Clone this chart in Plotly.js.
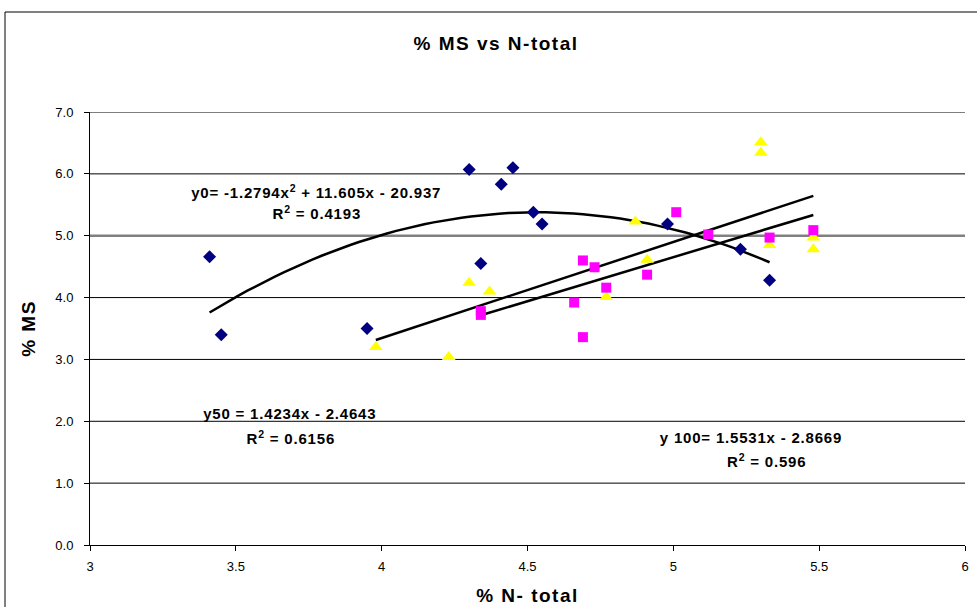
<!DOCTYPE html>
<html>
<head>
<meta charset="utf-8">
<script src="https://cdn.plot.ly/plotly-3.0.1.min.js"></script>
<style>
html,body{margin:0;padding:0;background:#fff;}
#chart{width:977px;height:607px;}
#chart .annotation-text {letter-spacing: 0.8px;}
#chart .gtitle, #chart .xtitle, #chart .ytitle {letter-spacing: 1.5px;}
</style>
</head>
<body>
<div id="chart"></div>
<script>
// Series y0 (navy diamonds)
var x0 = [3.41, 3.45, 3.95, 4.30, 4.45, 4.41, 4.52, 4.55, 4.34, 4.98, 5.23, 5.33];
var y0 = [4.66, 3.40, 3.50, 6.07, 6.10, 5.83, 5.38, 5.19, 4.55, 5.19, 4.78, 4.28];
// Series y50 (yellow triangles)
var x50 = [3.98, 4.23, 4.30, 4.37, 4.77, 4.87, 4.91, 5.30, 5.30, 5.33, 5.48, 5.48];
var y50 = [3.20, 3.04, 4.24, 4.10, 4.01, 5.23, 4.61, 6.51, 6.34, 4.85, 4.97, 4.78];
// Series y100 (magenta squares)
var x100 = [4.34, 4.34, 4.66, 4.69, 4.73, 4.77, 4.69, 4.91, 5.01, 5.12, 5.33, 5.48];
var y100 = [3.78, 3.72, 3.92, 4.60, 4.49, 4.16, 3.36, 4.37, 5.38, 5.02, 4.97, 5.09];

// Trend line coefficients (from the chart's equations) and their x-ranges
var quadCoef = [-1.2794, 11.605, -20.937];
var quadRange = [3.41, 5.33];
var linA = [1.5531, -2.8669];   // line spanning 3.98 - 5.48
var linARange = [3.98, 5.48];
var linB = [1.4234, -2.4643];   // line spanning 4.34 - 5.48
var linBRange = [4.34, 5.48];

var xTicks = [3, 3.5, 4, 4.5, 5, 5.5, 6];
var yTicks = [0, 1, 2, 3, 4, 5, 6, 7];

function quadLine(c, r) {
  var xs = [], ys = [];
  var n = 60;
  for (var i = 0; i <= n; i++) {
    var x = r[0] + (r[1] - r[0]) * i / n;
    xs.push(x);
    ys.push(c[0] * x * x + c[1] * x + c[2]);
  }
  return {x: xs, y: ys};
}
function linLine(c, r) {
  return {x: [r[0], r[1]], y: [c[0] * r[0] + c[1], c[0] * r[1] + c[1]]};
}

var q = quadLine(quadCoef, quadRange);
var la = linLine(linA, linARange);
var lb = linLine(linB, linBRange);

var lineStyle = {color: '#000000', width: 2.5};
var traces = [
  {x: q.x, y: q.y, mode: 'lines', line: lineStyle, hoverinfo: 'skip'},
  {x: la.x, y: la.y, mode: 'lines', line: lineStyle, hoverinfo: 'skip'},
  {x: lb.x, y: lb.y, mode: 'lines', line: lineStyle, hoverinfo: 'skip'},
  {x: x0, y: y0, mode: 'markers', name: 'y0',
   marker: {symbol: 'diamond', size: 10, color: '#000080'}},
  {x: x50, y: y50, mode: 'markers', name: 'y50',
   marker: {symbol: 'triangle-up', size: 12, color: '#FFFF00'}},
  {x: x100, y: y100, mode: 'markers', name: 'y100',
   marker: {symbol: 'square', size: 10, color: '#FF00FF'}}
];

var FAM = 'Arial, Liberation Sans, sans-serif';
var fnt = {family: FAM, size: 13, color: '#000'};
var bfnt = {family: FAM, size: 15, color: '#000', weight: 'bold'};
var tfnt = {family: FAM, size: 19, color: '#000', weight: 'bold'};

function ann(x, y, text) {
  return {x: x, y: y, xref: 'x', yref: 'y', text: text, showarrow: false,
          font: bfnt, xanchor: 'center', yanchor: 'middle'};
}

// horizontal gridlines drawn as shapes (the 5.0 line is grey and heavier)
var gridShapes = yTicks.filter(function(v){return v > 0;}).map(function(v){
  var special = (v === 5);
  return {type: 'line', xref: 'paper', yref: 'y', x0: 0, x1: 1, y0: v, y1: v, layer: 'below',
          line: {color: special ? '#808080' : '#000', width: special ? 2.5 : 1}};
});

var layout = {
  width: 977, height: 607,
  margin: {l: 90, r: 12, t: 112, b: 62},
  paper_bgcolor: '#fff', plot_bgcolor: '#fff',
  showlegend: false,
  title: {text: '% MS vs N-total', x: 0.464, xref: 'paper', xanchor: 'center', y: 1 - 43 / 607, yanchor: 'middle', font: tfnt},
  xaxis: {range: [3, 6], tickvals: xTicks, ticktext: xTicks.map(String), showgrid: false, zeroline: false,
          showline: true, linecolor: '#000', linewidth: 1, ticks: 'outside', ticklen: 5, tickcolor: '#000',
          tickfont: fnt, ticklabelstandoff: 4,
          title: {text: '% N- total', standoff: 16, font: tfnt}},
  yaxis: {range: [0, 7], tickvals: yTicks, ticktext: yTicks.map(function(v){return v.toFixed(1);}),
          showgrid: false, zeroline: false,
          showline: true, linecolor: '#000', linewidth: 1, ticks: 'outside', ticklen: 5, tickcolor: '#000',
          tickfont: fnt, ticklabelstandoff: 8,
          title: {text: '% MS', standoff: 14, font: tfnt}},
  shapes: gridShapes.concat([
    {type: 'rect', xref: 'paper', yref: 'paper', x0: -85 / 875, x1: 1.2, y0: -0.3, y1: 533 / 433,
     line: {color: '#000', width: 1}, fillcolor: 'rgba(0,0,0,0)'}
  ]),
  annotations: [
    ann(3.775, 5.72, 'y0= -1.2794x<sup>2</sup> + 11.605x - 20.937'),
    ann(3.778, 5.37, 'R<sup>2</sup> = 0.4193'),
    ann(3.686, 2.13, 'y50 = 1.4234x - 2.4643'),
    ann(3.689, 1.73, 'R<sup>2</sup> = 0.6156'),
    ann(5.266, 1.73, 'y 100= 1.5531x - 2.8669'),
    ann(5.318, 1.36, 'R<sup>2</sup> = 0.596')
  ]
};

Plotly.newPlot('chart', traces, layout, {displayModeBar: false, staticPlot: true});
</script>
</body>
</html>
